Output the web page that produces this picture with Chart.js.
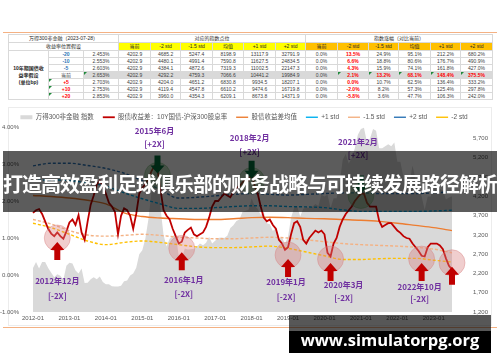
<!DOCTYPE html>
<html>
<head>
<meta charset="utf-8">
<script src="https://cdn.jsdelivr.net/npm/chart.js@4.4.0/dist/chart.umd.min.js"></script>
<style>
html, body { margin: 0; padding: 0; background: #fff; width: 500px; height: 362px; overflow: hidden; position: relative;
  font-family: "Liberation Sans", "Noto Sans CJK SC", sans-serif; }
.rule { position: absolute; left: 3px; width: 494px; height: 1px; background: #f4b183; }
#tbl { position: absolute; left: 8px; top: 34px; width: 484px; }
table { border-collapse: collapse; table-layout: fixed; width: 484px; font-size: 5px; color: #404040; }
td { border: 1px solid #d9d9d9; padding: 0; height: 7px; line-height: 5px; text-align: center; white-space: nowrap; overflow: hidden; position: relative; box-sizing: border-box; }
tr.h td { height: 8px; color: #262626; }
td.yl { background: #ffff00; }
td.or { background: #ffc000; }
tr.cur td.v { background: #d9d9d9; }
td.lab { font-weight: bold; line-height: 7px; color: #262626; }
td.blue { color: #2e75b6; font-weight: bold; }
td.red { color: #ff0000; font-weight: bold; }
td.sep { border-left: 1px solid #bfbfbf; }
td.g::before { content: ''; position: absolute; left: 0; top: 0; border-top: 3px solid #1e8a3a; border-right: 3px solid transparent; }
#frame { position: absolute; left: 8px; top: 107px; width: 482px; height: 217px; border: 1px solid #ececec; }
#c { position: absolute; left: 0; top: 105px; }
#banner { position: absolute; left: 3px; top: 151px; width: 494px; height: 61px; background: rgba(0,0,0,0.64);
  color: #fff; font-family: "Noto Sans CJK SC", sans-serif; font-weight: 700; font-size: 20px; letter-spacing: -1px;
  text-align: center; line-height: 61px; padding-top: 2px; box-sizing: border-box; white-space: nowrap; }
#mark { position: absolute; left: 289px; top: 315px; width: 202px; height: 38px;
  background: linear-gradient(to bottom, rgba(0,0,0,0.66) 0, rgba(0,0,0,0.66) 16px, #000 16px);
  color: #fff; font-family: "Open Sans", sans-serif; font-weight: 700; font-size: 16.5px; text-align: center; line-height: 22px; padding-top: 14px; box-sizing: border-box; }
</style>
</head>
<body>
<div class="rule" style="top:32px"></div>
<div id="tbl"><table id="t"></table></div>
<div id="frame"></div>
<canvas id="c" width="500" height="221"></canvas>
<div class="rule" style="top:327px"></div>
<div id="banner">打造高效盈利足球俱乐部的财务战略与可持续发展路径解析</div>
<div id="mark">www.simulatorpg.org</div>
<script>
// 表格数据
const colNames = ['当前', '-2 std', '-1.5 std', '均值', '+1 std', '+2 std'];
const bpLabels = ['-20', '-10', '-5', '当前', '+5', '+10', '+20'];
const yieldVals = ['2.453%', '2.553%', '2.603%', '2.653%', '2.703%', '2.753%', '2.853%'];
const indexPoints = [
    [4202.9, 4685.2, 5247.4, 8198.9, 13117.9, 32791.9],
    [4202.9, 4480.1, 4991.4, 7590.8, 11627.5, 24834.5],
    [4202.9, 4384.1, 4872.6, 7319.3, 11002.5, 22147.3],
    [4202.9, 4292.2, 4759.3, 7066.6, 10441.2, 19984.9],
    [4202.9, 4204.0, 4651.2, 6830.8, 9934.5, 18207.1],
    [4202.9, 4119.4, 4547.8, 6610.2, 9474.6, 16719.8],
    [4202.9, 3960.0, 4354.3, 6209.1, 8673.8, 14371.9],
];
const changePct = [
    ['0.0%', '13.5%', '24.9%', '95.1%', '212.2%', '680.2%'],
    ['0.0%', '6.6%', '18.8%', '80.6%', '176.7%', '490.9%'],
    ['0.0%', '4.3%', '15.9%', '74.1%', '161.8%', '427.0%'],
    ['0.0%', '2.1%', '13.2%', '68.1%', '148.4%', '375.5%'],
    ['0.0%', '0.0%', '10.7%', '62.5%', '136.4%', '333.2%'],
    ['0.0%', '-2.0%', '8.2%', '57.3%', '125.4%', '297.8%'],
    ['0.0%', '-5.8%', '3.6%', '47.7%', '106.3%', '242.0%'],
];

// 图表数据
const years = [2012, 2013, 2014, 2015, 2016, 2017, 2018, 2019, 2020, 2021, 2022, 2023];
const months = [];
years.forEach(y => {
    for (let m = 1; m <= 12; m++) {
        if (y === 2023 && m > 7) break;
        months.push(y + '-' + String(m).padStart(2, '0'));
    }
});

const spreadVals = [
    1.68, 1.75, 1.78, 1.65, 1.45, 1.25, 1.12, 1.05, 1.15, 1.05, 0.98, 1.18,
    1.42, 1.50, 1.35, 1.62, 1.15, 0.95, 1.45, 1.90, 2.15, 2.45, 2.55, 2.40,
    2.20, 1.95, 1.85, 1.70, 1.10, 1.60, 1.80, 1.75, 1.60, 1.25, 1.65, 2.20,
    2.35, 2.45, 2.60, 2.80, 2.95, 2.85, 2.30, 1.75, 1.60, 1.50, 1.25, 1.05,
    0.85, 0.90, 1.15, 1.22, 1.28, 1.10, 1.05, 1.10, 1.15, 1.30, 1.55, 1.85,
    2.00, 2.00, 2.10, 2.20, 2.15, 2.10, 2.25, 2.35, 2.40, 2.50, 2.60, 2.55,
    2.75, 2.40, 2.20, 1.85, 1.55, 1.45, 1.50, 1.35, 1.25, 0.95, 0.85, 0.68,
    0.75, 1.10, 1.40, 1.45, 1.30, 0.95, 0.85, 1.00, 1.10, 1.20, 1.15, 1.20,
    1.10, 0.60, 0.50, 0.85, 1.00, 1.30, 1.50, 1.65, 1.75, 1.85, 2.00, 2.10,
    2.20, 2.20, 1.95, 1.85, 1.85, 1.85, 1.47, 1.30, 1.35, 1.40, 1.40, 1.30,
    1.20, 1.14, 1.05, 1.00, 0.98, 0.85, 0.75, 0.65, 0.52, 0.50, 0.75, 0.85,
    0.85, 0.85, 0.80, 0.70, 0.45, 0.25, 0.15,
];

const indexVals = [
    2340, 2500, 2330, 2500, 2500, 2340, 2220, 2100, 2180, 2140, 2040, 2400,
    2480, 2460, 2280, 2200, 2330, 1950, 1960, 2050, 2100, 2050, 2120, 1980,
    1920, 1920, 1870, 1860, 1860, 1880, 2000, 2020, 2150, 2200, 2350, 2700,
    2800, 3100, 3600, 4300, 5000, 5200, 3900, 3200, 2900, 3100, 3150, 3250,
    2650, 2600, 2850, 2820, 2830, 2840, 2900, 2980, 2930, 3000, 3150, 2980,
    3050, 3120, 3130, 3120, 3180, 3380, 3450, 3560, 3600, 3800, 3830, 3850,
    4150, 3950, 3880, 3720, 3800, 3500, 3480, 3300, 3380, 3100, 3130, 2980,
    3150, 3650, 3900, 3950, 3680, 3880, 3920, 3900, 3930, 4000, 3950, 4250,
    4200, 4250, 3900, 4150, 4150, 4550, 5150, 5300, 5050, 5200, 5450, 5800,
    5950, 5980, 5600, 5700, 5950, 5900, 5450, 5450, 5500, 5550, 5500, 5600,
    5100, 5100, 4700, 4450, 4550, 5000, 4650, 4520, 4200, 3850, 4200, 4200,
    4520, 4480, 4400, 4350, 4120, 4170, 4203,
];

// 半年一个点的统计线
const statDates = ['2012-01', '2012-07', '2013-01', '2013-07', '2014-01', '2014-07', '2015-01', '2015-07',
    '2016-01', '2016-07', '2017-01', '2017-07', '2018-01', '2018-07', '2019-01', '2019-07',
    '2020-01', '2020-07', '2021-01', '2021-07', '2022-01', '2022-07', '2023-01', '2023-07'];
const meanVals    = [2.15, 2.12, 2.08, 2.02, 1.92, 1.68, 1.58, 1.54, 1.52, 1.50, 1.50, 1.52, 1.55, 1.56, 1.55, 1.53, 1.52, 1.50, 1.48, 1.45, 1.40, 1.34, 1.28, 1.20];
const plus1Vals   = [2.55, 2.57, 2.55, 2.49, 2.40, 2.22, 2.06, 1.92, 1.80, 1.80, 1.82, 1.85, 1.87, 1.87, 1.85, 1.84, 1.82, 1.76, 1.72, 1.72, 1.72, 1.72, 1.73, 1.75];
const minus15Vals = [1.50, 1.38, 1.20, 1.08, 1.05, 1.07, 1.10, 1.07, 1.02, 1.00, 0.98, 0.98, 1.00, 1.02, 1.00, 0.95, 0.90, 0.85, 0.82, 0.80, 0.78, 0.75, 0.70, 0.60];
const plus2Vals   = [2.95, 3.02, 3.02, 2.96, 2.88, 2.75, 2.55, 2.30, 2.08, 2.10, 2.14, 2.18, 2.20, 2.18, 2.16, 2.18, 2.20, 2.22, 2.22, 2.20, 2.20, 2.20, 2.22, 2.25];
const minus2Vals  = [1.40, 1.28, 1.10, 0.92, 0.82, 0.88, 0.92, 0.88, 0.82, 0.76, 0.74, 0.74, 0.76, 0.78, 0.72, 0.62, 0.52, 0.42, 0.42, 0.44, 0.45, 0.45, 0.40, 0.35];

const rightTicks = [1200, 1700, 2200, 2700, 3200, 3700, 4200, 4700, 5200, 5700];

// 标注：日期、股债收益差位置、文字
const annotations = [
    { date: '2012-09', value: 1.00, up: true,  text: ['2012年12月', '[-2X]'], tx: 0,  ty: [43, 58] },
    { date: '2015-06', value: 2.69, up: false, text: ['2015年6月', '[+2X]'],  tx: -3, ty: [-45, -32] },
    { date: '2016-02', value: 0.72, up: true,  text: ['2016年1月', '[-2X]'],  tx: 2,  ty: [32, 46] },
    { date: '2018-01', value: 2.55, up: false, text: ['2018年2月', '[+2X]'],  tx: -2, ty: [-43, -29] },
    { date: '2019-01', value: 0.54, up: true,  text: ['2019年1月', '[-2X]'],  tx: -2, ty: [27, 42] },
    { date: '2020-03', value: 0.43, up: true,  text: ['2020年3月', '[-2X]'],  tx: 13, ty: [26, 39] },
    { date: '2021-01', value: 2.15, up: false, text: ['2021年2月', '[+2X]'],  tx: -3, ty: [-53, -40] },
    { date: '2022-09', value: 0.43, up: true,  text: ['2022年10月', '[-2X]'], tx: -2, ty: [28, 40] },
    { date: '2023-07', value: 0.33, up: true,  text: [], tx: 0, ty: [] },
];

// 画表格
const t = document.getElementById('t');
let html = '<colgroup>';
[40, 35, 35, 32, 30, 32, 31, 32, 30, 32, 31, 30, 32, 30, 32].forEach(w => { html += '<col style="width:' + w + 'px">'; });
html += '</colgroup>';
html += '<tr class="h"><td colspan="3">万得300非金融（2023-07-28）</td><td colspan="6" class="sep">对应的指数点位</td><td colspan="6">指数涨幅（对比当前）</td></tr>';
html += '<tr class="h"><td colspan="3">收益率位置假设</td>';
colNames.forEach((n, i) => { html += '<td class="yl' + (i === 0 ? ' sep' : '') + '">' + n + '</td>'; });
colNames.forEach(n => { html += '<td class="or">' + n + '</td>'; });
html += '</tr>';
bpLabels.forEach((bp, r) => {
    const isCur = bp === '当前';
    html += '<tr class="' + (isCur ? 'cur' : '') + '">';
    if (r === 0) html += '<td rowspan="7" class="lab">10年期国债收<br>益率假设<br>(单位bp)</td>';
    const bpCls = bp[0] === '-' ? 'blue' : (bp[0] === '+' ? 'red g' : '');
    html += '<td class="' + bpCls + '">' + bp + '</td>';
    html += '<td class="v' + (isCur ? ' g' : '') + '">' + yieldVals[r] + '</td>';
    indexPoints[r].forEach((v, i) => { html += '<td class="v' + (i === 0 ? ' sep' : '') + '">' + v.toFixed(1) + '</td>'; });
    changePct[r].forEach((v, i) => {
        let cls = 'v';
        if (i === 1 || (isCur && i > 0)) cls += ' red';
        if (isCur && i > 0) cls += ' g';
        html += '<td class="' + cls + '">' + v + '</td>';
    });
    html += '</tr>';
});
t.innerHTML = html;

// 图例高度固定为20px
const legendHeight = {
    id: 'legendHeight',
    afterInit(chart) {
        const lg = chart.legend;
        const fit = lg.fit;
        lg.fit = function () { fit.call(this); this.height = 22; };
    }
};

// 标注插件
const annoPlugin = {
    id: 'anno',
    afterDatasetsDraw(chart) {
        const { ctx, scales: { x, y } } = chart;
        annotations.forEach(a => {
            const cx = x.getPixelForValue(months.indexOf(a.date));
            const cy = y.getPixelForValue(a.value);
            ctx.save();
            ctx.beginPath();
            ctx.arc(cx, cy, 13, 0, Math.PI * 2);
            ctx.fillStyle = a.up ? 'rgba(215,125,125,0.38)' : 'rgba(100,170,100,0.40)';
            ctx.fill();
            ctx.strokeStyle = a.up ? 'rgba(215,125,125,0.5)' : 'rgba(100,170,100,0.5)';
            ctx.lineWidth = 0.8;
            ctx.stroke();

            const s = a.up ? 1 : -1;
            const tip = a.up ? cy + 4 : cy - 2;
            ctx.beginPath();
            ctx.moveTo(cx, tip);
            ctx.lineTo(cx - 7, tip + s * 8);
            ctx.lineTo(cx - 3, tip + s * 8);
            ctx.lineTo(cx - 3, tip + s * 18);
            ctx.lineTo(cx + 3, tip + s * 18);
            ctx.lineTo(cx + 3, tip + s * 8);
            ctx.lineTo(cx + 7, tip + s * 8);
            ctx.closePath();
            ctx.fillStyle = a.up ? '#c00000' : '#00703c';
            ctx.fill();

            ctx.font = 'bold 8px "Noto Sans CJK SC", sans-serif';
            ctx.fillStyle = '#7030a0';
            ctx.textAlign = 'center';
            ctx.textBaseline = 'middle';
            a.text.forEach((s2, k) => ctx.fillText(s2, cx + a.tx, cy + a.ty[k]));
            ctx.restore();
        });
    }
};

const statLine = (vals, label, color, dash) => ({
    label: label,
    data: statDates.map((d, i) => ({ x: d, y: vals[i] })),
    borderColor: color,
    backgroundColor: color,
    borderWidth: 1.4,
    borderDash: dash,
    tension: 0.4,
    cubicInterpolationMode: 'monotone',
    pointStyle: 'line',
    yAxisID: 'y',
});

const fontFam = '"Liberation Sans", "Noto Sans CJK SC", sans-serif';

new Chart(document.getElementById('c'), {
    type: 'line',
    data: {
        labels: months,
        datasets: [
            {
                label: '股债收益差：10Y国债-沪深300股息率',
                data: spreadVals,
                borderColor: '#c00000',
                backgroundColor: '#c00000',
                borderWidth: 1.8,
                pointStyle: 'line',
                yAxisID: 'y',
            },
            statLine(meanVals, '股债收益差均值', '#ed7d31', []),
            statLine(plus1Vals, '+1 std', '#00b0f0', [3, 2]),
            statLine(minus15Vals, '-1.5 std', '#f4b183', [3, 2]),
            statLine(plus2Vals, '+2 std', '#2e75b6', [3, 2]),
            statLine(minus2Vals, '-2 std', '#ffc000', [3, 2]),
            {
                label: '万得300非金融 指数',
                data: indexVals,
                borderColor: '#d9d9d9',
                backgroundColor: '#d9d9d9',
                borderWidth: 0,
                fill: 'start',
                pointStyle: 'rect',
                yAxisID: 'y2',
            },
        ],
    },
    options: {
        responsive: false,
        animation: false,
        devicePixelRatio: 1,
        layout: { padding: { left: 0, right: 12, top: 0, bottom: 0 } },
        elements: { point: { radius: 0 } },
        plugins: {
            tooltip: { enabled: false },
            legend: {
                labels: {
                    usePointStyle: true,
                    pointStyleWidth: 12,
                    boxHeight: 4,
                    padding: 9,
                    color: '#595959',
                    font: { size: 6.5, family: fontFam },
                    sort: (a, b) => (a.datasetIndex === 6 ? -1 : a.datasetIndex) - (b.datasetIndex === 6 ? -1 : b.datasetIndex),
                },
            },
        },
        scales: {
            x: {
                grid: { display: false, drawTicks: false },
                border: { display: false },
                ticks: {
                    autoSkip: false, maxRotation: 0, padding: 3, color: '#595959',
                    font: { size: 6, family: fontFam },
                    callback: (v, i) => (months[i].endsWith('-01') ? months[i] : null),
                },
                afterFit: s => { s.height = 14; },
            },
            y: {
                position: 'left', min: -1, max: 4,
                grid: { display: false }, border: { display: false },
                ticks: { stepSize: 1, padding: 6, color: '#595959', font: { size: 6, family: fontFam },
                    callback: v => v.toFixed(2) + '%' },
                afterFit: s => { s.width = 33; },
            },
            y2: {
                position: 'right', min: 1200, max: 6000,
                grid: { display: false }, border: { display: false },
                ticks: { color: '#595959', crossAlign: 'far', font: { size: 6, family: fontFam },
                    callback: v => v.toLocaleString('en-US') },
                afterBuildTicks: s => { s.ticks = rightTicks.map(v => ({ value: v })); },
                afterFit: s => { s.width = 36; },
            },
        },
    },
    plugins: [legendHeight, annoPlugin],
});
</script>
</body>
</html>
